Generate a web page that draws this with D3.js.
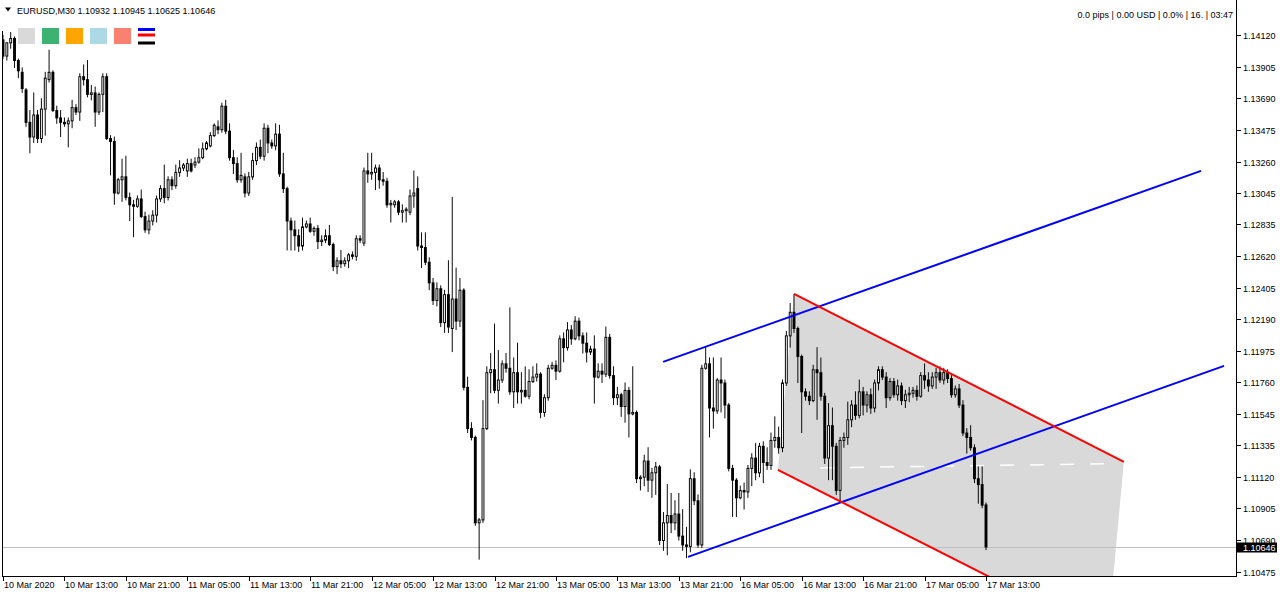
<!DOCTYPE html>
<html><head><meta charset="utf-8">
<script src="https://cdn.jsdelivr.net/npm/d3@7"></script>
<style>
html,body{margin:0;padding:0;background:#fff;overflow:hidden;}
svg{display:block;font-family:"Liberation Sans",Arial,sans-serif;}
</style></head>
<body><svg id="c" width="1280" height="595"></svg>
<script>
const symbolName = "EURUSD,M30";
const infoText = "0.0 pips | 0.00 USD | 0.0% | 16. | 03:47";
const timeLabels = ["10 Mar 2020","10 Mar 13:00","10 Mar 21:00","11 Mar 05:00","11 Mar 13:00","11 Mar 21:00","12 Mar 05:00","12 Mar 13:00","12 Mar 21:00","13 Mar 05:00","13 Mar 13:00","13 Mar 21:00","16 Mar 05:00","16 Mar 13:00","16 Mar 21:00","17 Mar 05:00","17 Mar 13:00"];
const barsPerLabel = 16;
const priceTicks = [1.14120,1.13905,1.13690,1.13475,1.13260,1.13045,1.12835,1.12620,1.12405,1.12190,1.11975,1.11760,1.11545,1.11335,1.11120,1.10905,1.10690,1.10475];
const legendColors = ["#d9d9d9","#3cb371","#ffa500","#add8e6","#fa8072"];
const legendLines = ["#0000ff","#ff0000","#000000"];

const open = [1.1409,1.1398,1.1407,1.1410,1.1395,1.1387,1.1375,1.1353,1.1343,1.1358,
1.1342,1.1362,1.1382,1.1387,1.1361,1.1356,1.1353,1.1352,1.1354,1.1363,
1.1360,1.1384,1.1382,1.1372,1.1373,1.1360,1.1372,1.1384,1.1342,1.1340,
1.1305,1.1314,1.1316,1.1302,1.1297,1.1296,1.1301,1.1289,1.1280,1.1286,
1.1290,1.1301,1.1308,1.1302,1.1314,1.1310,1.1319,1.1322,1.1320,1.1325,
1.1324,1.1326,1.1329,1.1335,1.1337,1.1344,1.1350,1.1348,1.1364,1.1347,
1.1329,1.1325,1.1314,1.1316,1.1305,1.1316,1.1327,1.1336,1.1330,1.1349,
1.1339,1.1337,1.1345,1.1318,1.1308,1.1286,1.1280,1.1276,1.1269,1.1282,
1.1284,1.1279,1.1281,1.1272,1.1273,1.1276,1.1270,1.1255,1.1259,1.1257,
1.1259,1.1263,1.1262,1.1274,1.1271,1.1320,1.1318,1.1319,1.1322,1.1314,
1.1313,1.1297,1.1297,1.1299,1.1292,1.1293,1.1292,1.1303,1.1308,1.1269,
1.1268,1.1258,1.1244,1.1232,1.1240,1.1217,1.1236,1.1213,1.1233,1.1218,
1.1239,1.1173,1.1145,1.1139,1.1081,1.1083,1.1145,1.1183,1.1185,1.1171,
1.1178,1.1189,1.1186,1.1170,1.1183,1.1170,1.1171,1.1167,1.1177,1.1180,
1.1182,1.1156,1.1166,1.1186,1.1188,1.1184,1.1206,1.1200,1.1212,1.1206,
1.1218,1.1208,1.1203,1.1197,1.1199,1.1180,1.1184,1.1182,1.1207,1.1181,
1.1166,1.1168,1.1160,1.1171,1.1155,1.1156,1.1111,1.1112,1.1123,1.1110,
1.1115,1.1119,1.1069,1.1081,1.1086,1.1081,1.1087,1.1072,1.1066,1.1065,
1.1111,1.1096,1.1066,1.1186,1.1189,1.1159,1.1157,1.1178,1.1176,1.1161,
1.1118,1.1110,1.1098,1.1103,1.1102,1.1118,1.1125,1.1115,1.1133,1.1122,
1.1120,1.1137,1.1139,1.1132,1.1176,1.1208,1.1224,1.1213,1.1194,1.1170,
1.1167,1.1164,1.1185,1.1183,1.1167,1.1125,1.1147,1.1133,1.1103,1.1137,
1.1139,1.1151,1.1161,1.1154,1.1170,1.1161,1.1168,1.1159,1.1176,1.1185,
1.1180,1.1166,1.1177,1.1168,1.1174,1.1164,1.1168,1.1169,1.1171,1.1167,
1.1181,1.1178,1.1174,1.1180,1.1183,1.1178,1.1183,1.1179,1.1168,1.1172,
1.1161,1.1142,1.1139,1.1132,1.1111,1.1107,1.10932];

const high = [1.1412,1.1402,1.1414,1.1411,1.1396,1.1390,1.1376,1.1361,1.1373,1.1361,
1.1369,1.1387,1.1402,1.1388,1.1364,1.1361,1.1356,1.1356,1.1368,1.1365,
1.1386,1.1392,1.1395,1.1378,1.1377,1.1373,1.1386,1.1386,1.1344,1.1343,
1.1315,1.1328,1.1330,1.1305,1.1300,1.1303,1.1307,1.1292,1.1290,1.1293,
1.1303,1.1310,1.1324,1.1316,1.1316,1.1324,1.1327,1.1325,1.1328,1.1328,
1.1329,1.1335,1.1339,1.1340,1.1346,1.1352,1.1354,1.1366,1.1368,1.1352,
1.1334,1.1329,1.1332,1.1318,1.1319,1.1332,1.1339,1.1341,1.1352,1.1351,
1.1341,1.1352,1.1351,1.1332,1.1309,1.1288,1.1286,1.1280,1.1288,1.1286,
1.1288,1.1282,1.1283,1.1276,1.1280,1.1283,1.1271,1.1261,1.1266,1.1261,
1.1264,1.1265,1.1276,1.1276,1.1322,1.1332,1.1332,1.1324,1.1324,1.1319,
1.1315,1.1300,1.1300,1.1300,1.1297,1.1295,1.1307,1.1320,1.1316,1.1278,
1.1278,1.1261,1.1247,1.1244,1.1242,1.1239,1.1259,1.1302,1.1254,1.1247,
1.1240,1.1180,1.1149,1.1140,1.1084,1.1164,1.1187,1.1196,1.1216,1.1198,
1.1191,1.1196,1.1227,1.1193,1.1203,1.1183,1.1187,1.1185,1.1187,1.1189,
1.1183,1.1168,1.1188,1.1190,1.1191,1.1208,1.1210,1.1217,1.1215,1.1221,
1.1220,1.1210,1.1210,1.1201,1.1208,1.1189,1.1189,1.1214,1.1209,1.1187,
1.1173,1.1169,1.1176,1.1173,1.1187,1.1157,1.1113,1.1127,1.1132,1.1118,
1.1122,1.1120,1.1088,1.1107,1.1101,1.1096,1.1101,1.1090,1.1078,1.1117,
1.1115,1.1100,1.1188,1.1200,1.1193,1.1193,1.1179,1.1193,1.1178,1.1162,
1.1120,1.1111,1.1106,1.1108,1.1120,1.1128,1.1135,1.1135,1.1136,1.1132,
1.1142,1.1153,1.1146,1.1178,1.1211,1.1230,1.1236,1.1214,1.1195,1.1172,
1.1170,1.1188,1.1200,1.1193,1.1169,1.1162,1.1159,1.1135,1.1139,1.1142,
1.1163,1.1164,1.1170,1.1178,1.1173,1.1170,1.1172,1.1178,1.1187,1.1187,
1.1183,1.1179,1.1179,1.1178,1.1176,1.1171,1.1173,1.1173,1.1174,1.1183,
1.1189,1.1183,1.1183,1.1186,1.1187,1.1186,1.1185,1.1181,1.1174,1.1175,
1.1164,1.1145,1.1147,1.1134,1.1119,1.1119,1.10945];

const low = [1.1396,1.1395,1.1403,1.1390,1.1383,1.1373,1.1350,1.1332,1.1339,1.1339,
1.1339,1.1344,1.1380,1.1360,1.1352,1.1343,1.1350,1.1336,1.1349,1.1358,
1.1354,1.1378,1.1370,1.1368,1.1350,1.1358,1.1360,1.1341,1.1317,1.1297,
1.1304,1.1299,1.1300,1.1286,1.1275,1.1295,1.1288,1.1278,1.1277,1.1283,
1.1285,1.1299,1.1298,1.1300,1.1307,1.1308,1.1316,1.1320,1.1316,1.1319,
1.1322,1.1325,1.1328,1.1334,1.1336,1.1343,1.1345,1.1346,1.1345,1.1327,
1.1318,1.1312,1.1312,1.1302,1.1303,1.1314,1.1324,1.1328,1.1327,1.1332,
1.1335,1.1334,1.1316,1.1305,1.1266,1.1266,1.1266,1.1265,1.1266,1.1281,
1.1278,1.1276,1.1267,1.1269,1.1271,1.1269,1.1252,1.1250,1.1254,1.1255,
1.1254,1.1260,1.1259,1.1271,1.1269,1.1312,1.1314,1.1307,1.1308,1.1310,
1.1295,1.1285,1.1295,1.1290,1.1285,1.1285,1.1290,1.1295,1.1266,1.1254,
1.1256,1.1239,1.1229,1.1228,1.1214,1.1210,1.1210,1.1197,1.1212,1.1214,
1.1171,1.1142,1.1137,1.1079,1.1056,1.1081,1.1144,1.1169,1.1169,1.1162,
1.1176,1.1183,1.1168,1.1159,1.1162,1.1162,1.1166,1.1165,1.1176,1.1177,
1.1152,1.1153,1.1164,1.1185,1.1178,1.1183,1.1190,1.1198,1.1202,1.1205,
1.1205,1.1196,1.1190,1.1195,1.1162,1.1179,1.1176,1.1180,1.1179,1.1161,
1.1161,1.1153,1.1149,1.1139,1.1154,1.1108,1.1103,1.1106,1.1102,1.1098,
1.1100,1.1066,1.1062,1.1059,1.1074,1.1076,1.1069,1.1062,1.1057,1.1061,
1.1093,1.1064,1.1064,1.1185,1.1139,1.1145,1.1155,1.1156,1.1152,1.1116,
1.1085,1.1085,1.1097,1.1090,1.1098,1.1106,1.1110,1.1112,1.1108,1.1117,
1.1117,1.1132,1.1128,1.1129,1.1174,1.1200,1.1210,1.1176,1.1142,1.1164,
1.1161,1.1163,1.1151,1.1164,1.1121,1.1110,1.1110,1.1100,1.1095,1.1132,
1.1134,1.1146,1.1151,1.1152,1.1154,1.1156,1.1155,1.1156,1.1171,1.1178,
1.1159,1.1164,1.1166,1.1164,1.1161,1.1159,1.1163,1.1166,1.1164,1.1166,
1.1172,1.1170,1.1172,1.1172,1.1176,1.1175,1.1176,1.1166,1.1166,1.1159,
1.1140,1.1128,1.1130,1.1108,1.1094,1.1091,1.10625];

const close = [1.1398,1.1407,1.1410,1.1395,1.1388,1.1376,1.1353,1.1343,1.1358,1.1342,
1.1362,1.1383,1.1387,1.1361,1.1356,1.1353,1.1352,1.1354,1.1363,1.1360,
1.1384,1.1382,1.1372,1.1373,1.1360,1.1372,1.1384,1.1342,1.1340,1.1305,
1.1314,1.1316,1.1302,1.1297,1.1296,1.1301,1.1289,1.1280,1.1286,1.1290,
1.1301,1.1308,1.1302,1.1314,1.1310,1.1319,1.1322,1.1324,1.1325,1.1320,
1.1326,1.1329,1.1335,1.1339,1.1344,1.1351,1.1348,1.1364,1.1347,1.1329,
1.1325,1.1314,1.1317,1.1305,1.1316,1.1327,1.1336,1.1330,1.1349,1.1339,
1.1337,1.1345,1.1318,1.1308,1.1286,1.1280,1.1276,1.1269,1.1282,1.1284,
1.1279,1.1281,1.1272,1.1273,1.1276,1.1270,1.1255,1.1259,1.1257,1.1259,
1.1263,1.1262,1.1274,1.1273,1.1320,1.1318,1.1319,1.1322,1.1314,1.1313,
1.1297,1.1298,1.1299,1.1292,1.1293,1.1294,1.1303,1.1305,1.1269,1.1268,
1.1258,1.1244,1.1232,1.1240,1.1217,1.1236,1.1214,1.1233,1.1218,1.1239,
1.1173,1.1145,1.1139,1.1081,1.1083,1.1145,1.1183,1.1185,1.1171,1.1178,
1.1189,1.1186,1.1170,1.1183,1.1170,1.1171,1.1167,1.1177,1.1180,1.1182,
1.1156,1.1166,1.1186,1.1188,1.1184,1.1206,1.1200,1.1212,1.1206,1.1218,
1.1208,1.1203,1.1197,1.1199,1.1180,1.1184,1.1182,1.1207,1.1181,1.1166,
1.1168,1.1160,1.1171,1.1155,1.1156,1.1111,1.1112,1.1123,1.1110,1.1115,
1.1119,1.1069,1.1081,1.1086,1.1081,1.1087,1.1072,1.1066,1.1065,1.1111,
1.1096,1.1066,1.1186,1.1189,1.1159,1.1157,1.1178,1.1176,1.1161,1.1118,
1.1110,1.1098,1.1103,1.1102,1.1118,1.1125,1.1115,1.1133,1.1122,1.1120,
1.1137,1.1139,1.1132,1.1176,1.1208,1.1224,1.1213,1.1194,1.1170,1.1167,
1.1164,1.1185,1.1183,1.1167,1.1125,1.1147,1.1133,1.1103,1.1137,1.1139,
1.1151,1.1161,1.1154,1.1170,1.1161,1.1168,1.1159,1.1176,1.1185,1.1180,
1.1166,1.1177,1.1168,1.1174,1.1164,1.1168,1.1169,1.1171,1.1167,1.1181,
1.1178,1.1174,1.1180,1.1183,1.1178,1.1183,1.1179,1.1168,1.1172,1.1161,
1.1142,1.1139,1.1132,1.1111,1.1107,1.1093,1.10646];

// drawn objects, anchored as [bar index, price]
const blueUpper = [[171.9,1.11900],[312.0,1.13197]];
const blueLower = [[178.4,1.10576],[318.0,1.11873]];
const redUpper  = [[206.0,1.12362],[291.9,1.11221]];
const redLower  = [[201.8,1.11167],[287.7,1.10033]];
const midLevel  = [[212.8,1.11180],[287.5,1.11208]];

const svg = d3.select("#c");
const n = open.length;
const lastPrice = close[n-1];
const x = d3.scaleLinear().domain([0, n-1]).range([3, 986]);
const y = d3.scaleLinear().domain([priceTicks[priceTicks.length-1], priceTicks[0]]).range([571.7, 35]);
const L = 2, R = 1236, B = 576;
const step = x(1) - x(0);

svg.append("rect").attr("width",1280).attr("height",595).attr("fill","#fff");
svg.append("defs").append("clipPath").attr("id","clip")
  .append("rect").attr("x",L).attr("y",0).attr("width",R-L).attr("height",B);
const g = svg.append("g").attr("clip-path","url(#clip)");
const line = d3.line().x(d=>x(d[0])).y(d=>y(d[1]));

// channel fill (background)
g.append("path").attr("d", line([redUpper[0], redUpper[1], redLower[1], redLower[0]]) + "Z")
  .attr("fill","#d9d9d9");
g.append("path").attr("d", line(midLevel)).attr("fill","none")
  .attr("stroke","#ffffff").attr("stroke-width",1.5).attr("stroke-dasharray","14,16");

// current price line
const yc = Math.round(y(lastPrice)) + 0.5;
g.append("line").attr("x1",L).attr("x2",R).attr("y1",yc).attr("y2",yc)
  .attr("stroke","#c0c0c0").attr("stroke-width",1);

// candles (body 3/4 of the bar step, 1/4-step outline and wick)
const bw = step * 0.75, sw = step * 0.25;
const cg = g.append("g");
for (let i = 0; i < n; i++) {
  const o = open[i], c = close[i];
  const h = Math.max(high[i], o, c), l = Math.min(low[i], o, c);
  const cx = x(i);
  cg.append("line").attr("x1",cx).attr("x2",cx)
    .attr("y1",y(h)).attr("y2",y(l)+0.5).attr("stroke","#000").attr("stroke-width",sw);
  const top = y(Math.max(o,c)), bot = y(Math.min(o,c));
  if (bot - top < 1) {
    cg.append("line").attr("x1",cx-bw/2).attr("x2",cx+bw/2).attr("y1",top+0.5).attr("y2",top+0.5)
      .attr("stroke","#000").attr("stroke-width",sw);
  } else if (c >= o) {
    cg.append("rect").attr("x",cx-bw/2+sw/2).attr("y",top+sw/2).attr("width",bw-sw).attr("height",bot-top)
      .attr("fill","#fff").attr("stroke","#000").attr("stroke-width",sw);
  } else {
    cg.append("rect").attr("x",cx-bw/2).attr("y",top).attr("width",bw).attr("height",bot-top+sw)
      .attr("fill","#000");
  }
}

// channel lines
[[blueUpper,"#0000ff"],[blueLower,"#0000ff"],[redUpper,"#ff0000"],[redLower,"#ff0000"]].forEach(([pts,col])=>{
  g.append("path").attr("d", line(pts)).attr("fill","none").attr("stroke",col).attr("stroke-width",2);
});

// frame
svg.append("line").attr("x1",R+0.5).attr("x2",R+0.5).attr("y1",0).attr("y2",B+1).attr("stroke","#000");
svg.append("line").attr("x1",L).attr("x2",R+1).attr("y1",B+0.5).attr("y2",B+0.5).attr("stroke","#000");
svg.append("line").attr("x1",L+0.5).attr("x2",L+0.5).attr("y1",31).attr("y2",B+1).attr("stroke","#000");

// price axis
priceTicks.forEach(p=>{
  const yy = Math.round(y(p)) + 0.5;
  svg.append("line").attr("x1",R+1).attr("x2",R+5).attr("y1",yy).attr("y2",yy).attr("stroke","#000");
  svg.append("text").attr("x",R+7).attr("y",yy+3.2).attr("font-size",9).attr("fill","#000").text(p.toFixed(5));
});
svg.append("rect").attr("x",R).attr("y",yc-5).attr("width",41).attr("height",10).attr("fill","#000");
svg.append("text").attr("x",R+7).attr("y",yc+3.3).attr("font-size",9).attr("fill","#fff").text(lastPrice.toFixed(5));

// time axis
timeLabels.forEach((t,k)=>{
  const xx = Math.round(x(k*barsPerLabel)) + 0.5;
  svg.append("line").attr("x1",xx).attr("x2",xx).attr("y1",B+1).attr("y2",B+5).attr("stroke","#000");
  svg.append("text").attr("x",xx+0.5).attr("y",B+12).attr("font-size",9).attr("fill","#000").text(t);
});

// header
svg.append("path").attr("d","M5,7.5L11,7.5L8,11.5Z").attr("fill","#000");
svg.append("text").attr("x",17).attr("y",13.5).attr("font-size",9).attr("fill","#000")
  .text(symbolName + " " + [open[n-1],high[n-1],low[n-1],close[n-1]].map(v=>v.toFixed(5)).join(" "));
svg.append("text").attr("x",1233).attr("y",18).attr("font-size",9).attr("text-anchor","end").attr("fill","#000").text(infoText);

// legend
legendColors.forEach((c,k)=>{
  svg.append("rect").attr("x",18+24*k).attr("y",28).attr("width",17).attr("height",16).attr("fill",c);
});
legendLines.forEach((c,k)=>{
  svg.append("rect").attr("x",138).attr("y",[28,33.5,41.5][k]).attr("width",17).attr("height",3).attr("fill",c);
});
</script>
</body></html>
